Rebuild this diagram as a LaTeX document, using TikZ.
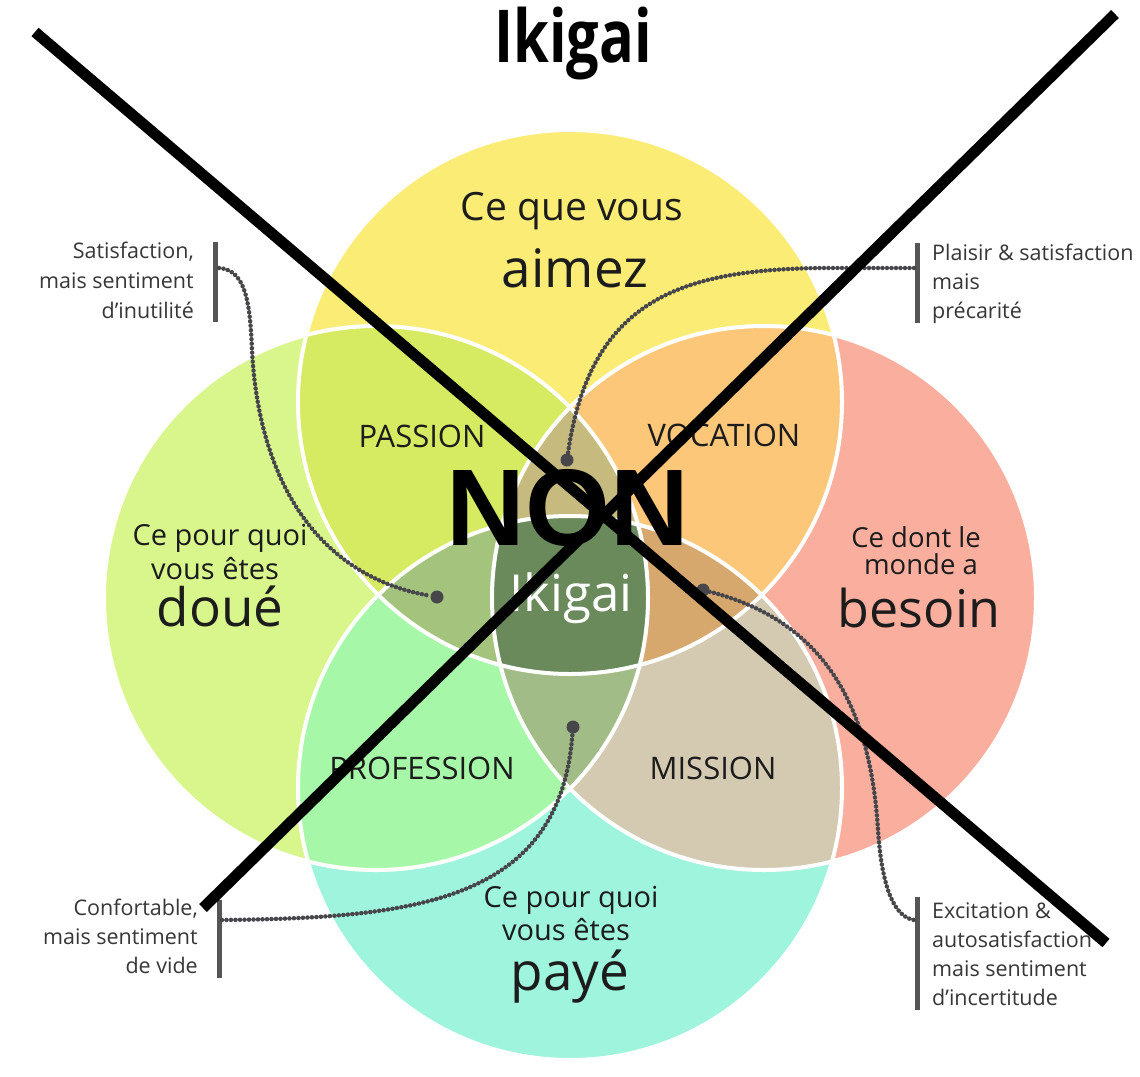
\documentclass[tikz,border=0pt]{standalone}
\usepackage{fontspec}
\setmainfont{Open Sans}
\newfontfamily\nonfont{Liberation Sans}
\definecolor{cTop}{RGB}{250,236,116}
\definecolor{cLeft}{RGB}{216,246,140}
\definecolor{cRight}{RGB}{249,174,158}
\definecolor{cBot}{RGB}{158,244,220}
\definecolor{cPassion}{RGB}{214,234,98}
\definecolor{cVocation}{RGB}{253,199,122}
\definecolor{cProfession}{RGB}{166,248,168}
\definecolor{cMission}{RGB}{212,202,178}
\definecolor{cUpper}{RGB}{199,186,126}
\definecolor{cLeftLens}{RGB}{164,196,126}
\definecolor{cRightLens}{RGB}{214,168,110}
\definecolor{cLowLens}{RGB}{162,188,136}
\definecolor{cCenter}{RGB}{107,138,92}
\definecolor{txt}{RGB}{28,28,28}
\definecolor{smalltxt}{RGB}{55,55,55}
\definecolor{barc}{RGB}{85,85,85}
\definecolor{dotc}{RGB}{70,70,75}
\begin{document}
\begin{tikzpicture}[x=1pt,y=-1pt,
  lbl/.style={text=txt, inner sep=0pt, anchor=base},
  small/.style={text=smalltxt, inner sep=0pt, font=\fontsize{21.5}{26}\selectfont},
  mid/.style={lbl, font=\fontsize{29}{35}\selectfont},
  big/.style={lbl, font=\fontsize{53}{60}\selectfont},
  caps/.style={lbl, font=\fontsize{31}{36}\selectfont},
  barline/.style={draw=barc, line width=5pt},
  dotline/.style={draw=dotc, line width=4.5pt, line cap=round, dash pattern=on 0pt off 4.5pt},
  dotn/.style={circle, fill=dotc, minimum size=13pt, inner sep=0pt},
  cross/.style={draw=black, line width=11pt},
  rim/.style={draw=white, line width=4pt}]
\useasboundingbox (0,0) rectangle (1140,1076);
\fill[white] (0,0) rectangle (1140,1076);
\def\R{272pt}
\coordinate (cT) at (570,402);
\coordinate (cL) at (376,598);
\coordinate (cR) at (764,598);
\coordinate (cB) at (570,788);
% single circles
\fill[cTop] (cT) circle[radius=\R];
\fill[cLeft] (cL) circle[radius=\R];
\fill[cRight] (cR) circle[radius=\R];
\fill[cBot] (cB) circle[radius=\R];
% pairs
\begin{scope}\clip (cT) circle[radius=\R]; \fill[cPassion] (cL) circle[radius=\R]; \end{scope}
\begin{scope}\clip (cT) circle[radius=\R]; \fill[cVocation] (cR) circle[radius=\R]; \end{scope}
\begin{scope}\clip (cB) circle[radius=\R]; \fill[cProfession] (cL) circle[radius=\R]; \end{scope}
\begin{scope}\clip (cB) circle[radius=\R]; \fill[cMission] (cR) circle[radius=\R]; \end{scope}
% triples
\begin{scope}\clip (cT) circle[radius=\R]; \clip (cL) circle[radius=\R]; \fill[cUpper] (cR) circle[radius=\R]; \end{scope}
\begin{scope}\clip (cT) circle[radius=\R]; \clip (cL) circle[radius=\R]; \fill[cLeftLens] (cB) circle[radius=\R]; \end{scope}
\begin{scope}\clip (cT) circle[radius=\R]; \clip (cR) circle[radius=\R]; \fill[cRightLens] (cB) circle[radius=\R]; \end{scope}
\begin{scope}\clip (cL) circle[radius=\R]; \clip (cR) circle[radius=\R]; \fill[cLowLens] (cB) circle[radius=\R]; \end{scope}
% center
\begin{scope}\clip (cT) circle[radius=\R]; \clip (cL) circle[radius=\R]; \clip (cR) circle[radius=\R]; \fill[cCenter] (cB) circle[radius=\R]; \end{scope}
% white rims
\draw[rim] (cT) circle[radius=\R];
\draw[rim] (cL) circle[radius=\R];
\draw[rim] (cR) circle[radius=\R];
\draw[rim] (cB) circle[radius=\R];

% title
\node[lbl, text=black, font=\bfseries\fontsize{73}{80}\selectfont] (title) at (573,62) {\scalebox{0.79}[1]{Ikigai}};

% circle texts
\node[lbl, font=\fontsize{39}{44}\selectfont] (t1) at (572,220) {Ce que vous};
\node[big] (t2) at (575,287) {aimez};
\node[mid] (l1) at (220,545) {Ce pour quoi};
\node[mid] (l2) at (215,579) {vous êtes};
\node[big] (l3) at (220,626) {doué};
\node[lbl, font=\fontsize{27.5}{32}\selectfont] (r1) at (916,547) {Ce dont le};
\node[lbl, font=\fontsize{27.5}{32}\selectfont] (r2) at (921,574) {monde a};
\node[lbl, font=\fontsize{52}{60}\selectfont] (r3) at (919,627) {besoin};
\node[mid] (b1) at (571,907) {Ce pour quoi};
\node[mid] (b2) at (566,940) {vous êtes};
\node[big] (b3) at (570,990) {payé};
\node[caps] (passion) at (422,447) {PASSION};
\node[caps] (vocation) at (724,446) {VOCATION};
\node[caps] (profession) at (422,779) {PROFESSION};
\node[caps] (mission) at (713,779) {MISSION};
\node[lbl, text=white, font=\fontsize{51}{56}\selectfont] (ikigai) at (571,611) {Ikigai};

% side texts
\node[small, anchor=base east] (s1) at (194,258) {Satisfaction,};
\node[small, anchor=base east] (s2) at (194,288) {mais sentiment};
\node[small, anchor=base east] (s3) at (194,318) {d’inutilité};
\node[small, anchor=base west] (p1) at (932,260) {Plaisir \& satisfaction};
\node[small, anchor=base west] (p2) at (932,289) {mais};
\node[small, anchor=base west] (p3) at (932,318) {précarité};
\node[small, anchor=base east] (c1) at (198,915) {Confortable,};
\node[small, anchor=base east] (c2) at (198,944) {mais sentiment};
\node[small, anchor=base east] (c3) at (198,973) {de vide};
\node[small, anchor=base west] (e1) at (932,918) {Excitation \&};
\node[small, anchor=base west] (e2) at (932,947) {autosatisfaction};
\node[small, anchor=base west] (e3) at (932,976) {mais sentiment};
\node[small, anchor=base west] (e4) at (932,1005) {d’incertitude};

% bars
\coordinate (bLTa) at (215,242); \coordinate (bLTb) at (215,322);
\coordinate (bRTa) at (917,243); \coordinate (bRTb) at (917,323);
\coordinate (bLBa) at (219,900); \coordinate (bLBb) at (219,978);
\coordinate (bRBa) at (917,897); \coordinate (bRBb) at (917,1010);
\draw[barline] (bLTa) -- (bLTb);
\draw[barline] (bRTa) -- (bRTb);
\draw[barline] (bLBa) -- (bLBb);
\draw[barline] (bRBa) -- (bRBb);

% dots
\node[dotn] (d1) at (437,597) {};
\node[dotn] (d2) at (567,460) {};
\node[dotn] (d3) at (573,727) {};
\node[dotn] (d4) at (703,590) {};
\coordinate (a1) at (219,268);
\coordinate (m1) at (252,350);
\coordinate (a2) at (914,268);
\coordinate (m2) at (820,268);
\coordinate (a3) at (222,920);
\coordinate (a4) at (914,920);
\coordinate (m4) at (878,830);
\draw[dotline] (a1) .. controls (245,270) and (250,300) .. (m1) .. controls (258,470) and (310,575) .. (d1);
\draw[dotline] (a2) -- (m2) .. controls (680,270) and (590,300) .. (d2);
\draw[dotline] (a3) .. controls (420,918) and (560,900) .. (d3);
\draw[dotline] (d4) .. controls (820,620) and (870,700) .. (m4) .. controls (882,890) and (895,917) .. (a4);

% the cross and NON
\coordinate (x1a) at (35,32); \coordinate (x1b) at (1106,943);
\coordinate (x2a) at (1115,14); \coordinate (x2b) at (203,908);
\draw[cross] (x1a) -- (x1b);
\draw[cross] (x2a) -- (x2b);
\node[lbl, text=black, font=\nonfont\bfseries\fontsize{109}{120}\selectfont] (non) at (568,545) {NON};
\end{tikzpicture}
\end{document}
